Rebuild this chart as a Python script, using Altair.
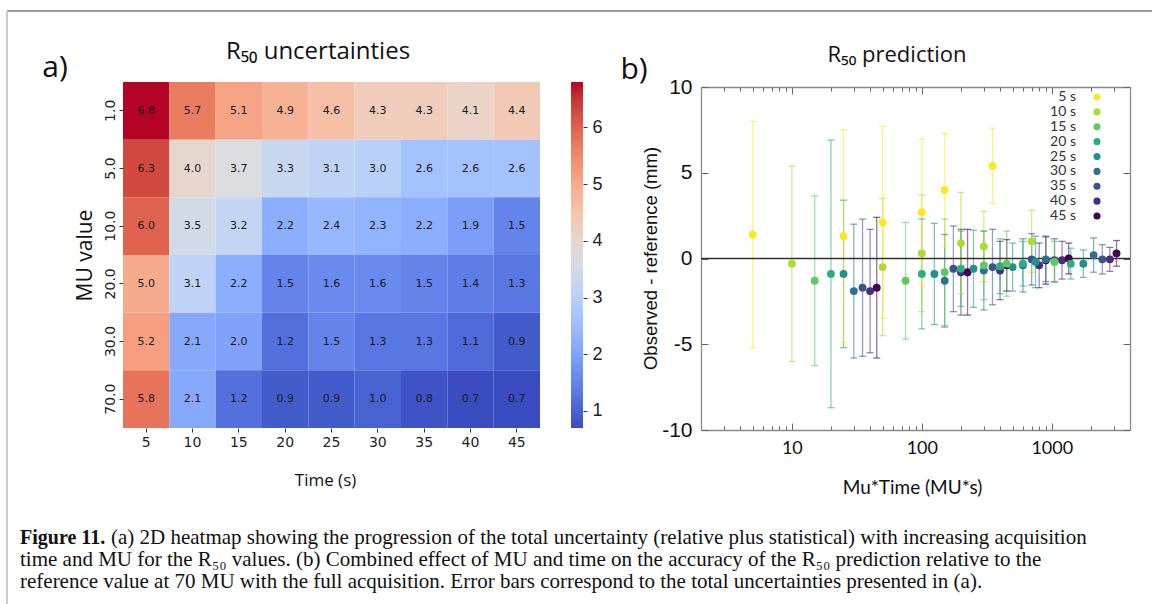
import altair as alt
import pandas as pd

W, H = 1152, 604

# ---------------- data ----------------
times = [5, 10, 15, 20, 25, 30, 35, 40, 45]
mu_values = [1, 5, 10, 20, 30, 70]
mu_labels = ["1.0", "5.0", "10.0", "20.0", "30.0", "70.0"]

uncertainty = [
    [6.8, 5.7, 5.1, 4.9, 4.6, 4.3, 4.3, 4.1, 4.4],
    [6.3, 4.0, 3.7, 3.3, 3.1, 3.0, 2.6, 2.6, 2.6],
    [6.0, 3.5, 3.2, 2.2, 2.4, 2.3, 2.2, 1.9, 1.5],
    [5.0, 3.1, 2.2, 1.5, 1.6, 1.6, 1.5, 1.4, 1.3],
    [5.2, 2.1, 2.0, 1.2, 1.5, 1.3, 1.3, 1.1, 0.9],
    [5.8, 2.1, 1.2, 0.9, 0.9, 1.0, 0.8, 0.7, 0.7],
]

# observed - reference (mm), rows = MU, cols = time
deviation = [
    [1.4, -0.3, -1.3, -0.9, -0.9, -1.9, -1.7, -1.9, -1.7],
    [1.3, -0.5, -1.3, -0.9, -0.9, -1.3, -0.6, -0.8, -0.8],
    [2.1, 0.3, -0.8, -0.6, -0.6, -0.7, -0.5, -0.7, -0.4],
    [2.7, 0.9, -0.4, -0.45, -0.5, -0.4, -0.05, -0.4, -0.1],
    [4.0, 0.7, -0.3, -0.3, -0.2, -0.05, -0.1, -0.1, 0.0],
    [5.4, 1.0, -0.2, -0.3, -0.3, 0.2, -0.05, -0.05, 0.3],
]
# half-length of the error bars (mm)
error = [
    [6.6, 5.7, 4.95, 7.8, 4.3, 3.9, 4.0, 3.6, 4.1],
    [6.2, 4.0, 3.4, 3.2, 2.95, 2.7, 2.5, 2.5, 2.5],
    [5.6, 3.4, 3.1, 2.2, 2.25, 2.3, 2.2, 1.7, 1.5],
    [4.25, 2.95, 2.0, 1.6, 1.4, 1.55, 1.5, 1.3, 1.4],
    [3.3, 2.05, 1.9, 1.3, 1.5, 1.3, 1.25, 1.1, 0.9],
    [2.2, 1.8, 1.2, 0.9, 0.8, 1.0, 0.85, 0.7, 0.75],
]

legend_labels = ["5 s", "10 s", "15 s", "20 s", "25 s", "30 s", "35 s", "40 s", "45 s"]
cbar_ticks = [1, 2, 3, 4, 5, 6]
x_major = [10, 100, 1000]
x_minor = [2, 3, 4, 5, 6, 7, 8, 9, 20, 30, 40, 50, 60, 70, 80, 90,
           200, 300, 400, 500, 600, 700, 800, 900, 2000, 3000, 4000]
y_ticks = [-10, -5, 0, 5, 10]

title_a = "R₅₀ uncertainties"
title_b = "R₅₀ prediction"
panel_a = "a)"
panel_b = "b)"
cap_bold = "Figure 11."
cap_lines = [
    "(a) 2D heatmap showing the progression of the total uncertainty (relative plus statistical) with increasing acquisition",
    "time and MU for the R₅₀ values. (b) Combined effect of MU and time on the accuracy of the R₅₀ prediction relative to the",
    "reference value at 70 MU with the full acquisition. Error bars correspond to the total uncertainties presented in (a).",
]

# ---------------- styles ----------------
coolwarm = ["#3b4cc0", "#4d68d7", "#6282ea", "#779af7", "#8db0fe", "#a3c2ff",
            "#b8d0f9", "#ccd9ee", "#dddddd", "#ecd3c5", "#f5c4ad", "#f7b194",
            "#f49a7b", "#ec7f63", "#de604d", "#cb3e38", "#b40426"]
viridis9 = ["#fde725", "#addc30", "#5ec962", "#28ae80", "#21918c",
            "#2c728e", "#3b528b", "#472d7b", "#440154"]

# heatmap geometry
HX0, HX1, HY0, HY1 = 123, 540, 82, 428
CBX0, CBX1 = 571, 583
# scatter geometry
PX0, PX1, PY0, PY1 = 701, 1130, 87, 430
BORDER = "#8a8a8a"
TICKC = "#666666"

# ---------------- frames ----------------
hdf = pd.DataFrame([
    {"mu": mu_labels[i], "time": t, "value": uncertainty[i][j]}
    for i in range(len(mu_labels)) for j, t in enumerate(times)
])
vmin = float(hdf["value"].min())
vmax = float(hdf["value"].max())
n = len(coolwarm)
cdomain = [vmin + k * (vmax - vmin) / (n - 1) for k in range(n)]

rows = []
for i, mu in enumerate(mu_values):
    for j, t in enumerate(times):
        d = deviation[i][j]
        e = error[i][j]
        rows.append({"mt": mu * t, "time": t, "dev": d, "lo": d - e, "hi": d + e})
sdf = pd.DataFrame(rows)
caps = pd.concat([
    sdf[["mt", "time"]].assign(cap=sdf["lo"]),
    sdf[["mt", "time"]].assign(cap=sdf["hi"]),
])
ldf = pd.DataFrame({"label": legend_labels, "time": times})
cbdf = pd.DataFrame({"v": cbar_ticks})

# ---------------- scales ----------------
hxs = alt.Scale(range=[HX0, HX1], paddingInner=0, paddingOuter=0)
hys = alt.Scale(domain=mu_labels, range=[HY0, HY1], paddingInner=0, paddingOuter=0)
hcs = alt.Scale(domain=cdomain, range=coolwarm)
cbs = alt.Scale(domain=[vmin, vmax], range=[HY1, HY0], nice=False, zero=False)

sxs = alt.Scale(type="log", domain=[2, 4000], range=[PX0, PX1], nice=False)
sys_ = alt.Scale(domain=[-10, 10], range=[PY1, PY0], nice=False, zero=False)
vcs = alt.Scale(domain=times, range=viridis9)

layers = []

# ---------------- heatmap ----------------
heat = alt.Chart(hdf).mark_rect().encode(
    x=alt.X("time:O", scale=hxs, axis=alt.Axis(
        orient="bottom", offset=-(H - HY1), title="Time (s)", labelAngle=0,
        labelFont="DejaVu Sans", labelFontSize=14, labelColor="#222",
        tickColor="#333", tickSize=4, labelPadding=3, domain=False, grid=False,
        titleFont="Open Sans", titleFontSize=17, titleFontWeight="normal",
        titleColor="#111", titleX=325, titleY=52, titleBaseline="middle")),
    y=alt.Y("mu:N", scale=hys, sort=mu_labels, axis=alt.Axis(
        orient="left", offset=-HX0, title="MU value", labelAngle=270,
        labelAlign="center", labelBaseline="middle", labelPadding=9,
        labelFont="DejaVu Sans", labelFontSize=14, labelColor="#222",
        tickColor="#333", tickSize=4, domain=False, grid=False,
        titleFont="Open Sans", titleFontSize=21, titleFontWeight="normal",
        titleColor="#111", titleAngle=270, titleX=-38, titleY=255,
        titleBaseline="middle")),
    color=alt.Color("value:Q", scale=hcs, legend=alt.Legend(
        orient="none", legendX=CBX0, legendY=HY0, direction="vertical",
        gradientLength=HY1 - HY0, gradientThickness=CBX1 - CBX0, title=None,
        values=cbar_ticks, labelOpacity=0, gradientStrokeWidth=0, padding=0)),
)
layers.append(heat)

annot = alt.Chart(hdf).mark_text(font="DejaVu Sans", fontSize=11, color="#1a1a1a").encode(
    x=alt.X("time:O", scale=hxs, axis=None),
    y=alt.Y("mu:N", scale=hys, sort=mu_labels, axis=None),
    text=alt.Text("value:Q", format=".1f"),
)
layers.append(annot)

# colorbar ticks + labels
cbar = alt.Chart(cbdf).mark_point(opacity=0).encode(
    y=alt.Y("v:Q", scale=cbs, axis=alt.Axis(
        orient="right", offset=CBX1 - W, values=cbar_ticks, tickSize=4,
        tickColor="#333", domain=False, grid=False, labelPadding=5,
        labelFont="Liberation Sans", labelFontSize=18, labelColor="#222",
        title=None)),
    x=alt.value(CBX0),
)
layers.append(cbar)

# ---------------- scatter ----------------
bars = alt.Chart(sdf).mark_rule(strokeWidth=1.3, opacity=0.55).encode(
    x=alt.X("mt:Q", scale=sxs, axis=alt.Axis(
        orient="top", offset=-PY1, values=x_major, tickSize=7, tickColor=TICKC,
        labels=False, domain=False, grid=False, title=None)),
    y=alt.Y("lo:Q", scale=sys_, axis=alt.Axis(
        orient="right", offset=PX0 - W, values=y_ticks, tickSize=7, tickColor=TICKC,
        labels=False, domain=False, grid=False, title=None)),
    y2="hi:Q",
    color=alt.Color("time:O", scale=vcs, legend=None),
)
layers.append(bars)

capm = alt.Chart(caps).mark_tick(orient="horizontal", size=7, thickness=1.3, opacity=0.6).encode(
    x=alt.X("mt:Q", scale=sxs, axis=alt.Axis(
        orient="top", offset=-PY1, values=x_minor, tickSize=4, tickColor=TICKC,
        labels=False, domain=False, grid=False, title=None)),
    y=alt.Y("cap:Q", scale=sys_, axis=alt.Axis(
        orient="left", offset=-PX1, values=y_ticks, tickSize=7, tickColor=TICKC,
        labels=False, domain=True, domainColor=BORDER, domainWidth=1.3,
        grid=False, title=None)),
    color=alt.Color("time:O", scale=vcs, legend=None),
)
layers.append(capm)

top_major = alt.Chart(sdf).mark_point(opacity=0).encode(
    x=alt.X("mt:Q", scale=sxs, axis=alt.Axis(
        orient="bottom", offset=-(H - PY0), values=x_major, tickSize=7, tickColor=TICKC,
        labels=False, domain=True, domainColor=BORDER, domainWidth=1.3,
        grid=False, title=None)),
    y=alt.Y("dev:Q", scale=sys_, axis=None),
)
layers.append(top_major)

top_minor = alt.Chart(sdf).mark_point(opacity=0).encode(
    x=alt.X("mt:Q", scale=sxs, axis=alt.Axis(
        orient="bottom", offset=-(H - PY0), values=x_minor, tickSize=4, tickColor=TICKC,
        labels=False, domain=False, grid=False, title=None)),
    y=alt.Y("dev:Q", scale=sys_, axis=None),
)
layers.append(top_minor)

zero = alt.Chart(alt.Data(values=[{"z": 0}])).mark_rule(color="#333", strokeWidth=1.6).encode(
    x=alt.datum(2, scale=sxs, axis=None),
    x2=alt.datum(4000),
    y=alt.Y("z:Q", scale=sys_, axis=None),
)
layers.append(zero)

pts = alt.Chart(sdf).mark_circle(size=62, opacity=1).encode(
    x=alt.X("mt:Q", scale=sxs, axis=alt.Axis(
        orient="bottom", offset=-(H - PY1), values=x_major, format="d",
        ticks=False, domain=True, domainColor=BORDER, domainWidth=1.3,
        labelPadding=9, labelFont="Lato", labelFontSize=18, labelColor="#111",
        grid=False, title="Mu*Time (MU*s)", titleFont="Lato", titleFontSize=19,
        titleFontWeight="normal", titleColor="#111", titleX=912, titleY=57,
        titleBaseline="middle")),
    y=alt.Y("dev:Q", scale=sys_, axis=alt.Axis(
        orient="left", offset=-PX0, values=y_ticks, ticks=False, domain=True,
        domainColor=BORDER, domainWidth=1.3, labelPadding=9,
        labelExpr="'' + datum.value",
        labelFont="Liberation Sans", labelFontSize=21, labelColor="#111",
        grid=False, title="Observed - reference (mm)", titleFont="Liberation Sans",
        titleFontSize=18.5, titleFontWeight="normal", titleColor="#111",
        titleAngle=270, titleX=-51, titleY=258, titleBaseline="middle")),
    color=alt.Color("time:O", scale=vcs, legend=None),
)
layers.append(pts)

# legend of panel b
lys = alt.Scale(type="point", domain=legend_labels, range=[97, 216], padding=0)
leg_txt = alt.Chart(ldf).mark_text(align="right", baseline="middle", font="Lato",
                                   fontSize=14, color="#333").encode(
    x=alt.value(1076),
    y=alt.Y("label:N", scale=lys, sort=legend_labels, axis=None),
    text="label:N",
)
leg_pts = alt.Chart(ldf).mark_circle(size=50, opacity=1).encode(
    x=alt.value(1097),
    y=alt.Y("label:N", scale=lys, sort=legend_labels, axis=None),
    color=alt.Color("time:O", scale=vcs, legend=None),
)
layers += [leg_txt, leg_pts]


# ---------------- text ----------------
def txt(s, x, y, size, font="Open Sans", weight="normal", align="center", color="#111"):
    return alt.Chart(alt.Data(values=[{"t": s}])).mark_text(
        font=font, fontSize=size, fontWeight=weight, align=align,
        baseline="middle", color=color).encode(
        x=alt.value(x), y=alt.value(y), text="t:N")


layers += [
    txt(panel_a, 55, 68, 30),
    txt(panel_b, 634, 70, 30),
    txt(title_a, 318, 52, 24),
    txt(title_b, 897, 55, 22),
    txt(cap_bold, 20, 538, 20, font="Liberation Serif", weight="bold", align="left"),
    txt(cap_lines[0], 111, 538, 21, font="Liberation Serif", align="left"),
    txt(cap_lines[1], 20, 560, 21, font="Liberation Serif", align="left"),
    txt(cap_lines[2], 20, 582, 21, font="Liberation Serif", align="left"),
]

# frame lines
layers.append(alt.Chart(alt.Data(values=[{"a": 1}])).mark_rule(color="#9a9a9a", strokeWidth=2).encode(
    x=alt.value(7), x2=alt.value(W), y=alt.value(11)))
layers.append(alt.Chart(alt.Data(values=[{"a": 1}])).mark_rule(color="#cccccc", strokeWidth=2).encode(
    x=alt.value(7), y=alt.value(11), y2=alt.value(H)))

chart = alt.layer(*layers).properties(
    width=W, height=H, padding=0, background="white",
    autosize=alt.AutoSizeParams(type="none"),
).resolve_scale(
    x="independent", y="independent", color="independent"
).resolve_axis(
    x="independent", y="independent"
).resolve_legend(
    color="independent"
).configure_view(stroke="transparent")

chart.save("out.html", embed_options={"renderer": "svg", "actions": False})
